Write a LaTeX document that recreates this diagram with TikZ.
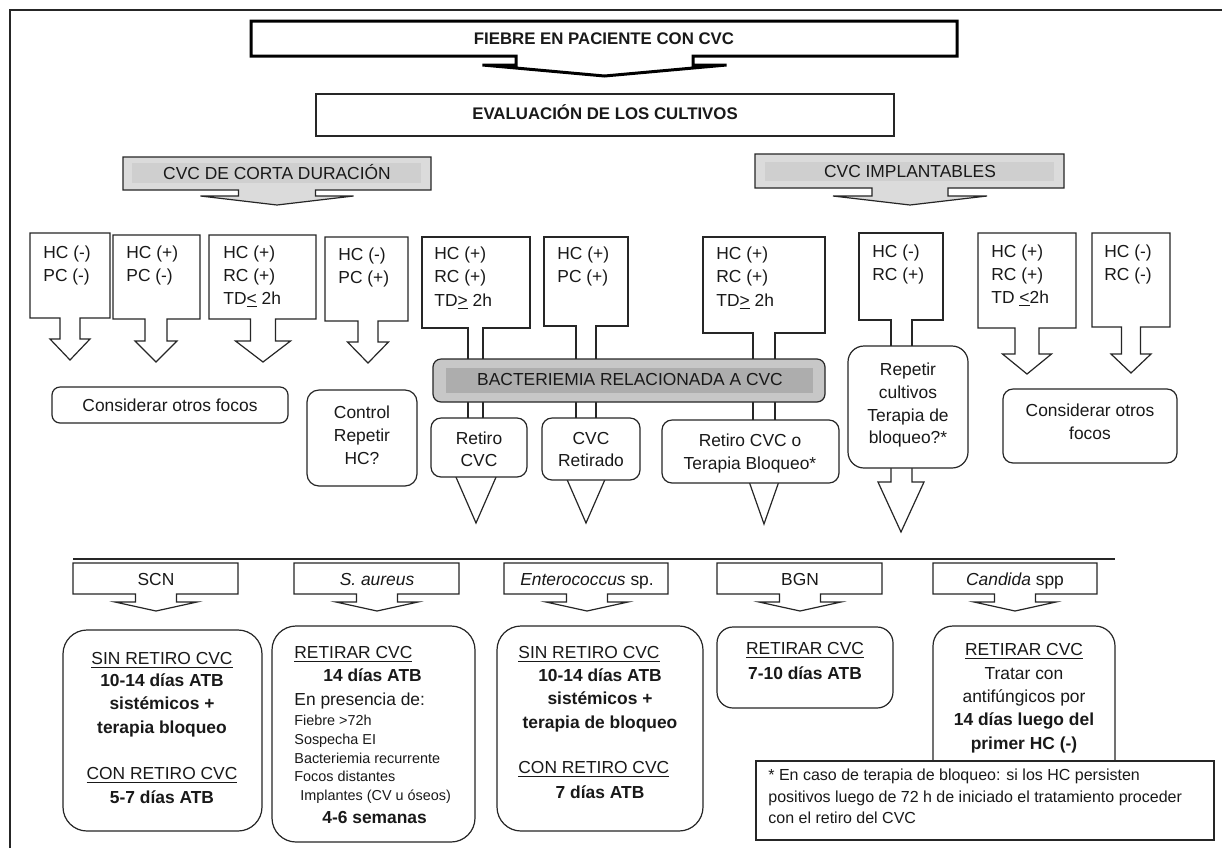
\documentclass[tikz,border=0pt]{standalone}
\usepackage{fontspec}
\setmainfont{Liberation Sans}
\begin{document}
\definecolor{ln}{gray}{0.15}
\definecolor{tcol}{gray}{0.1}
\definecolor{gA}{gray}{0.86}
\definecolor{gB}{gray}{0.81}
\definecolor{bA}{gray}{0.78}
\definecolor{bB}{gray}{0.68}
% L,T,R,B,center,shaft half,wing half,ywing,yapex
\newcommand\dcall[9]{(#1,#2) -- (#3,#2) -- (#3,#4) -- ({#5+#6},#4) -- ({#5+#6},#8) -- ({#5+#7},#8) -- (#5,#9) -- ({#5-#7},#8) -- ({#5-#6},#8) -- ({#5-#6},#4) -- (#1,#4) -- cycle}
% L,T,R,B,x1,x2,ybottom
\newcommand\shaftbox[7]{(#1,#2) -- (#3,#2) -- (#3,#4) -- (#6,#4) -- (#6,#7) -- (#5,#7) -- (#5,#4) -- (#1,#4) -- cycle}
\newcommand\ctext[4]{\node[tx,anchor=base] (#1) at (#2,{#3+6}) {#4};}
\newcommand\wtext[4]{\node[tx,anchor=base west] (#1) at (#2,{#3+6}) {#4};}
\newcommand\wsmall[4]{\node[txs,anchor=base west] (#1) at (#2,{#3+5}) {#4};}
\newcommand\wnote[4]{\node[txn,anchor=base west] (#1) at (#2,{#3+5.5}) {#4};}
\begin{tikzpicture}[x=0.5pt,y=-0.5pt,
  tx/.style={inner sep=0pt,text=tcol,font=\fontsize{8.7}{10.4}\selectfont},
  txs/.style={inner sep=0pt,text=tcol,font=\fontsize{7.2}{8.6}\selectfont},
  txn/.style={inner sep=0pt,text=tcol,font=\fontsize{8}{9.6}\selectfont},
  txh/.style={inner sep=0pt,text=tcol,font=\fontsize{8.4}{10}\selectfont\bfseries},
  bx/.style={draw=ln,line width=0.6pt,fill=white},
  gbx/.style={draw=ln,line width=0.6pt,fill=gA},
]
\useasboundingbox (0,0) rectangle (1222,848);
\fill[white] (0,0) rectangle (1222,848);
\draw[ln,line width=1pt] (9.5,848) -- (9.5,9.5) -- (1222,9.5);

% top
\draw[draw=black,line width=1.5pt,fill=white] \dcall{251}{21}{957}{56}{604.5}{88.5}{122}{65}{76};
\node[txh,anchor=base] (fiebre) at (604,44) {FIEBRE EN PACIENTE CON CVC};
\draw[bx] (316,94) rectangle (894,136);
\node[txh,anchor=base] (eval) at (605,119) {EVALUACIÓN DE LOS CULTIVOS};

% grey callouts
\draw[gbx] \dcall{123}{157}{431}{190}{277}{38.5}{76.5}{196}{205};
\fill[gB] (132,163) rectangle (421,183);
\ctext{corta}{277}{173}{CVC DE CORTA DURACIÓN}
\draw[gbx] \dcall{755}{154}{1064}{188}{910}{38}{77}{196}{205};
\fill[gB] (765,162) rectangle (1054,181);
\ctext{impl}{910}{171}{CVC IMPLANTABLES}

% first row callouts
\draw[bx] \dcall{30}{233}{110}{318}{70}{10}{20}{339}{360};
\draw[bx] \dcall{113}{235}{200}{319}{156}{11}{21}{341}{362};
\draw[bx] \dcall{209}{235}{316}{319}{263}{12.5}{27.5}{341}{362};
\draw[bx] \dcall{325}{237}{408}{321}{368}{10}{20.5}{342}{363};
\draw[bx] \dcall{978}{233}{1076}{328}{1027}{12}{24.5}{354}{374};
\draw[bx] \dcall{1092}{233}{1170}{327}{1131}{9.5}{20}{354}{373};

\draw[bx] \shaftbox{422}{237}{530}{328}{468}{483}{450};
\draw[bx] \shaftbox{544}{237}{628}{326}{576}{596}{450};
\draw[bx] \shaftbox{703}{237}{825}{333}{753}{775}{450};
\draw[bx] \shaftbox{859}{233}{943}{320}{891}{912}{400};

% arrow heads below the middle boxes
\draw[bx] (452,468) -- (476,523) -- (500,468);
\draw[bx] (562,468) -- (586,523) -- (610,468);
\draw[bx] (745,470) -- (764,524) -- (783,470);
\draw[bx] (891,455) -- (891,482) -- (878,482) -- (901,532) -- (924,482) -- (912,482) -- (912,455);

% bar
\draw[draw=ln,line width=0.6pt,fill=bA,rounded corners=4pt] (433,359) rectangle (825,402);
\fill[bB] (446,368) rectangle (813,393);
\ctext{bact}{630}{379}{BACTERIEMIA RELACIONADA A CVC}

% middle rounded boxes
\draw[bx,rounded corners=5pt] (431,418) rectangle (527,477);
\draw[bx,rounded corners=5pt] (542,418) rectangle (640,480);
\draw[bx,rounded corners=5pt] (662,420) rectangle (839,483);
\draw[bx,rounded corners=8pt] (848,346) rectangle (968,468);
\draw[bx,rounded corners=4pt] (52,387) rectangle (288,423);
\draw[bx,rounded corners=6pt] (307,390) rectangle (417,486);
\draw[bx,rounded corners=5pt] (1003,389) rectangle (1177,463);

% separator
\draw[ln,line width=0.6pt] (73,559) -- (1115,559);

% pathogen callouts
\draw[bx] \dcall{73}{563}{238}{594}{156}{20.5}{41}{602}{611};
\draw[bx] \dcall{294}{563}{459}{594}{377}{20.5}{41}{602}{611};
\draw[bx] \dcall{504}{563}{668}{594}{587}{20.5}{41}{602}{611};
\draw[bx] \dcall{717}{563}{882}{594}{800}{20.5}{41}{602}{611};
\draw[bx] \dcall{933}{563}{1097}{594}{1015}{20.5}{41}{602}{611};

% bottom boxes
\draw[bx,rounded corners=12pt] (63,630) rectangle (262,831);
\draw[bx,rounded corners=12pt] (272,626) rectangle (475,842);
\draw[bx,rounded corners=12pt] (497,626) rectangle (703,831);
\draw[bx,rounded corners=8pt] (717,627) rectangle (893,708);
\draw[bx,rounded corners=10pt] (933,626) rectangle (1115,800);
\draw[draw=ln,line width=0.9pt,fill=white] (756,761) rectangle (1214,840);

% ---- texts: first row
\wtext{a1}{43}{252}{HC (-)}
\wtext{a2}{43}{275}{PC (-)}
\wtext{b1}{126}{252}{HC (+)}
\wtext{b2}{126}{275}{PC (-)}
\wtext{c1}{223}{252}{HC (+)}
\wtext{c2}{223}{275}{RC (+)}
\wtext{c3}{223}{298}{TD\underline{<} 2h}
\wtext{d1}{338}{254}{HC (-)}
\wtext{d2}{338}{277}{PC (+)}
\wtext{e1}{434}{253}{HC (+)}
\wtext{e2}{434}{276}{RC (+)}
\wtext{e3}{434}{300}{TD\underline{>} 2h}
\wtext{f1}{557}{253}{HC (+)}
\wtext{f2}{557}{276}{PC (+)}
\wtext{g1}{716}{253}{HC (+)}
\wtext{g2}{716}{276}{RC (+)}
\wtext{g3}{716}{300}{TD\underline{>} 2h}
\wtext{h1}{872}{251}{HC (-)}
\wtext{h2}{872}{274}{RC (+)}
\wtext{i1}{991}{251}{HC (+)}
\wtext{i2}{991}{274}{RC (+)}
\wtext{i3}{991}{297}{TD \underline{<}2h}
\wtext{j1}{1104}{251}{HC (-)}
\wtext{j2}{1104}{274}{RC (-)}

% ---- middle texts
\ctext{cof}{170}{405}{Considerar otros focos}
\ctext{ctl1}{362}{412}{Control}
\ctext{ctl2}{362}{435}{Repetir}
\ctext{ctl3}{362}{458}{HC?}
\ctext{ret1}{479}{438}{Retiro}
\ctext{ret2}{479}{460}{CVC}
\ctext{cr1}{591}{438}{CVC}
\ctext{cr2}{591}{460}{Retirado}
\ctext{rt1}{750}{440}{Retiro CVC o}
\ctext{rt2}{750}{463}{Terapia Bloqueo*}
\ctext{rp1}{908}{369}{Repetir}
\ctext{rp2}{908}{392}{cultivos}
\ctext{rp3}{908}{415}{Terapia de}
\ctext{rp4}{908}{437}{bloqueo?*}
\ctext{cor1}{1090}{410}{Considerar otros}
\ctext{cor2}{1090}{433}{focos}

% ---- pathogen labels
\ctext{scn}{156}{579}{SCN}
\ctext{sau}{377}{579}{\textit{S. aureus}}
\ctext{ent}{587}{579}{\textit{Enterococcus} sp.}
\ctext{bgn}{800}{579}{BGN}
\ctext{can}{1015}{579}{\textit{Candida} spp}

% ---- SCN box
\ctext{s1}{162}{658}{\underline{SIN RETIRO CVC}}
\ctext{s2}{162}{680}{\textbf{10-14 días ATB}}
\ctext{s3}{162}{703}{\textbf{sistémicos +}}
\ctext{s4}{162}{727}{\textbf{terapia bloqueo}}
\ctext{s5}{162}{773}{\underline{CON RETIRO CVC}}
\ctext{s6}{162}{797}{\textbf{5-7 días ATB}}

% ---- S. aureus box
\wtext{t1}{294}{652}{\underline{RETIRAR CVC}}
\wtext{t2}{323}{675}{\textbf{14 días ATB}}
\wtext{t3}{294}{699}{En presencia de:}
\wsmall{t4}{294}{720}{Fiebre >72h}
\wsmall{t5}{294}{739}{Sospecha EI}
\wsmall{t6}{294}{758}{Bacteriemia recurrente}
\wsmall{t7}{294}{776}{Focos distantes}
\wsmall{t8}{300}{795}{Implantes (CV u óseos)}
\wtext{t9}{322}{817}{\textbf{4-6 semanas}}

% ---- Enterococcus box
\wtext{u1}{518}{652}{\underline{SIN RETIRO CVC}}
\ctext{u2}{600}{675}{\textbf{10-14 días ATB}}
\ctext{u3}{600}{698}{\textbf{sistémicos +}}
\ctext{u4}{600}{722}{\textbf{terapia de bloqueo}}
\wtext{u5}{518}{767}{\underline{CON RETIRO CVC}}
\ctext{u6}{600}{792}{\textbf{7 días ATB}}

% ---- BGN box
\ctext{v1}{805}{648}{\underline{RETIRAR CVC}}
\ctext{v2}{805}{673}{\textbf{7-10 días ATB}}

% ---- Candida box
\ctext{w1}{1024}{649}{\underline{RETIRAR CVC}}
\ctext{w2}{1024}{673}{Tratar con}
\ctext{w3}{1024}{696}{antifúngicos por}
\ctext{w4}{1024}{719}{\textbf{14 días luego del}}
\ctext{w5}{1024}{743}{\textbf{primer HC (-)}}

% ---- note
\wnote{n1}{768}{775}{* En caso de terapia de bloqueo: si los HC persisten}
\wnote{n2}{768}{797}{positivos luego de 72 h de iniciado el tratamiento proceder}
\wnote{n3}{768}{818}{con el retiro del CVC}
\end{tikzpicture}
\end{document}
